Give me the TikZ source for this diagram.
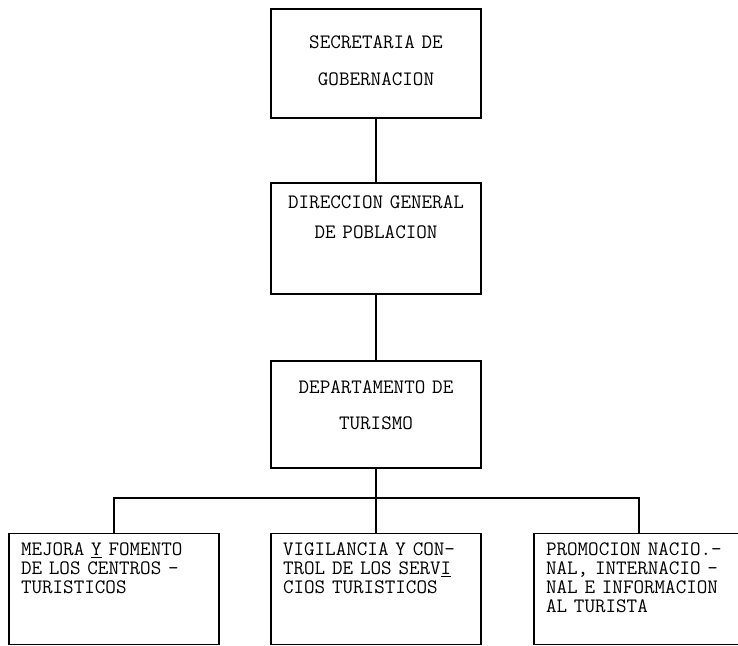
\documentclass[tikz,border=0pt]{standalone}
\usepackage{fontspec}
\usepackage{tikz}
\usetikzlibrary{shapes,positioning}
\newcommand{\maquina}{\ttfamily}
\tikzstyle{block} = [rectangle, draw, line width=1.2pt, text width=210pt,
    inner sep=0pt, align=center]
\tikzstyle{leaf} = [rectangle, draw, line width=1.2pt, text width=186pt,
    inner xsep=12pt, inner ysep=0pt, align=left, text height=22pt, text depth=89pt,
    font=\maquina\fontsize{20.5}{19}\selectfont]
\tikzstyle{line} = [line width=1.2pt]

\begin{document}
\begin{tikzpicture}[node distance = 175pt, auto]
    \useasboundingbox (0,0) rectangle (738pt,-645pt);
    % Place nodes
    \node [block, text height=39pt, text depth=70pt,
        font=\maquina\fontsize{20.5}{37}\selectfont] (secretaria) at (376pt,-63.5pt)
        {SECRETARIA DE\\GOBERNACION};
    \node [block, below of=secretaria, text height=25pt, text depth=86pt,
        font=\maquina\fontsize{20.5}{30}\selectfont] (direccion)
        {DIRECCION GENERAL\\DE POBLACION};
    \node [block, below of=direccion, node distance=176pt, text height=32pt, text depth=75pt,
        font=\maquina\fontsize{20.5}{36}\selectfont] (turismo)
        {DEPARTAMENTO DE\\TURISMO};
    \node [leaf, below of=turismo, node distance=174.5pt] (vigilancia)
        {VIGILANCIA Y CON-\\TROL DE LOS SERV\underline{I}\\CIOS TURISTICOS};
    \node [leaf, left of=vigilancia, node distance=262pt] (mejora)
        {MEJORA \underline{Y} FOMENTO\\DE LOS CENTROS -\\TURISTICOS};
    \node [leaf, right of=vigilancia, node distance=263pt] (promocion)
        {PROMOCION NACIO.-\\NAL, INTERNACIO -\\NAL E INFORMACION\\AL TURISTA};
    \coordinate [below of=turismo, node distance=83.5pt] (bus);
    % Draw edges
    \draw [line] (secretaria) -- (direccion);
    \draw [line] (direccion) -- (turismo);
    \draw [line] (turismo) -- (bus);
    \draw [line] (mejora) |- (bus) -| (promocion);
    \draw [line] (bus) -- (vigilancia);
\end{tikzpicture}
\end{document}
